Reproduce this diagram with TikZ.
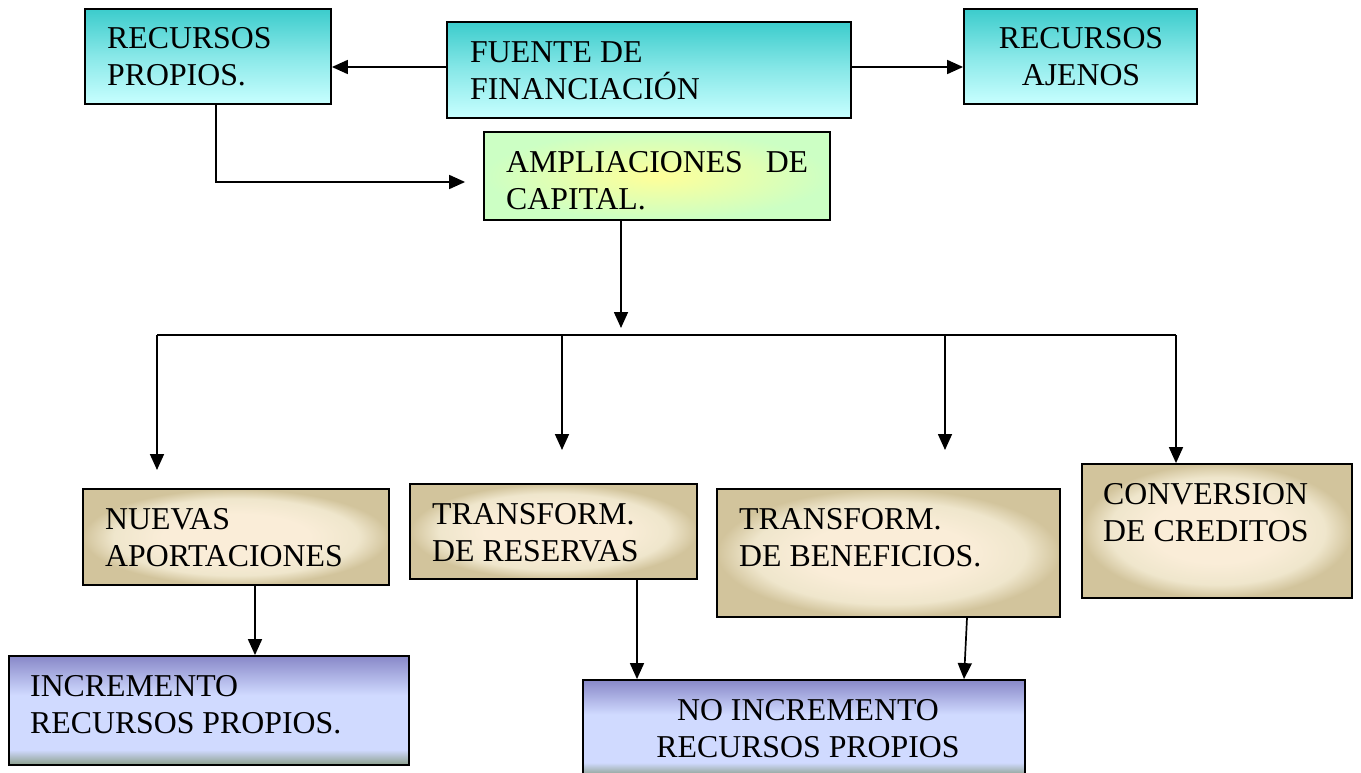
\documentclass[tikz,border=0pt]{standalone}
\usepackage{fontspec}
\setmainfont{Liberation Serif}
\usetikzlibrary{arrows.meta,calc}
\definecolor{tealtop}{HTML}{3CCCCC}
\definecolor{tealbot}{HTML}{C8FFFF}
\definecolor{grnout}{HTML}{CCFFC4}
\definecolor{ylwin}{HTML}{FFFF99}
\definecolor{tanout}{HTML}{D2C49C}
\definecolor{tanmid}{HTML}{EFE6CC}
\definecolor{tanin}{HTML}{FAEDD8}
\definecolor{bltop}{HTML}{8888C8}
\definecolor{bllight}{HTML}{D0DAFF}
\definecolor{blbot}{HTML}{8A9E8A}
\pgfdeclareverticalshading{blueshade}{100bp}{color(0bp)=(blbot); color(25bp)=(blbot); color(32bp)=(bllight); color(57bp)=(bllight); color(75bp)=(bltop); color(100bp)=(bltop)}
\pgfdeclareradialshading{tanshade}{\pgfpoint{0bp}{0bp}}{color(0bp)=(tanin); color(12bp)=(tanin); color(20bp)=(tanmid); color(25bp)=(tanout); color(50bp)=(tanout)}
\tikzset{
  box/.style={draw=black, line width=1.8pt, rectangle, inner sep=0pt},
  tealbox/.style={box, top color=tealtop, bottom color=tealbot, middle color=tealtop!45!tealbot},
  greenbox/.style={box, inner color=ylwin, outer color=grnout},
  tanbox/.style={box, shading=tanshade},
  bluebox/.style={box, shading=blueshade},
  txt/.style={inner sep=0pt, align=left, anchor=base west, font=\fontsize{31.8}{37}\selectfont},
  ctxt/.style={txt, align=center, anchor=base},
  arr/.style={line width=1.7pt, -{Triangle[length=16pt,width=14pt]}},
  ln/.style={line width=1.7pt}
}
\begin{document}
\begin{tikzpicture}[x=1pt,y=-1pt]
\useasboundingbox (0,0) rectangle (1361,773);
% boxes
\node[tealbox, minimum width=246pt, minimum height=95pt] (rp) at (208,56.5) {};
\node[tealbox, minimum width=404pt, minimum height=96pt] (fu) at (649,70) {};
\node[tealbox, minimum width=233pt, minimum height=95pt] (aj) at (1080.5,56.5) {};
\node[greenbox, minimum width=346pt, minimum height=88pt] (amp) at (657,176) {};
\node[tanbox, minimum width=306pt, minimum height=96pt] (nue) at (236,537) {};
\node[tanbox, minimum width=287pt, minimum height=95pt] (res) at (553.5,531.5) {};
\node[tanbox, minimum width=343pt, minimum height=128pt] (ben) at (888.5,553) {};
\node[tanbox, minimum width=270pt, minimum height=134pt] (conv) at (1217,531) {};
\node[bluebox, minimum width=400pt, minimum height=109pt] (inc) at (209,710.5) {};
\node[bluebox, minimum width=442pt, minimum height=96pt] (ni) at (804,728) {};
% texts (anchor = baseline of last line)
\node[txt] (trp) at (107,85.5) {RECURSOS\\PROPIOS.};
\node[txt] (tfu) at (470,99.5) {FUENTE DE\\FINANCIACIÓN};
\node[ctxt] (taj) at (1081,85.5) {RECURSOS\\AJENOS};
\node[txt] (tamp) at (506,209.5) {\makebox[302pt][l]{AMPLIACIONES\hfill DE}\\CAPITAL.};
\node[txt] (tnue) at (105,566.5) {NUEVAS\\APORTACIONES};
\node[txt] (tres) at (432,561.5) {TRANSFORM.\\DE RESERVAS};
\node[txt] (tben) at (739,566.5) {TRANSFORM.\\DE BENEFICIOS.};
\node[txt] (tconv) at (1103,541.5) {CONVERSION\\DE CREDITOS};
\node[txt] (tinc) at (30,733.5) {INCREMENTO\\RECURSOS PROPIOS.};
\node[ctxt] (tni) at (808,757.5) {NO INCREMENTO\\RECURSOS PROPIOS};
% coordinates
\coordinate (bus) at (621,328);
\coordinate (b1) at (157,335);
\coordinate (b2) at (562,335);
\coordinate (b3) at (945,335);
\coordinate (b4) at (1176,335);
\coordinate (t1) at (157,470);
\coordinate (t2) at (562,450);
\coordinate (t3) at (945,450);
% connectors
\draw[arr] ([yshift=3pt]fu.west) -- ([yshift=3pt]fu.west -| rp.east);
\draw[arr] ([yshift=3pt]fu.east) -- ([yshift=3pt]fu.east -| aj.west);
\draw[arr] ([xshift=8pt]rp.south) |- ([xshift=-18pt,yshift=-6pt]amp.west);
\draw[arr] ([xshift=-36pt]amp.south) -- (bus);
\draw[ln] (b1) -- (b4);
\draw[arr] (b1) -- (t1);
\draw[arr] (b2) -- (t2);
\draw[arr] (b3) -- (t3);
\draw[arr] (b4) -- ([xshift=-41pt]conv.north);
\draw[arr] ([xshift=19pt]nue.south) -- ([xshift=19pt]nue.south |- inc.north);
\draw[arr] ([xshift=83.5pt]res.south) -- ([xshift=83.5pt]res.south |- ni.north);
\draw[arr] ([xshift=78.5pt]ben.south) -- ([xshift=160pt]ni.north);
\end{tikzpicture}
\end{document}
